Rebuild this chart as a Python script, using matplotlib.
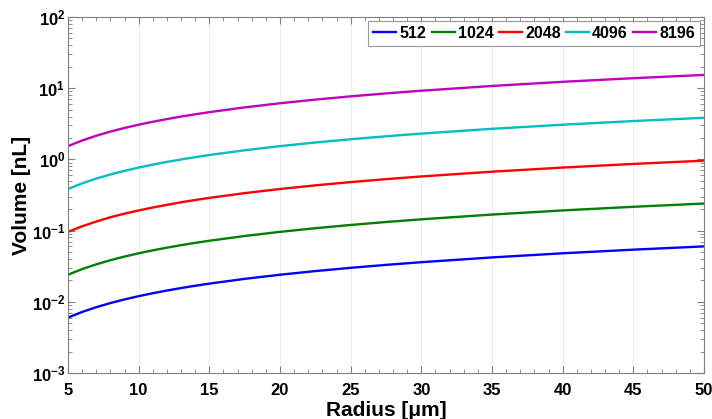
import numpy as np
import matplotlib.pyplot as plt
from matplotlib.ticker import FixedLocator, FuncFormatter, LogLocator, NullFormatter

plt.rcParams['font.family'] = ['Liberation Sans', 'DejaVu Sans']
plt.rcParams['font.weight'] = 'bold'
plt.rcParams['mathtext.fontset'] = 'custom'
plt.rcParams['mathtext.rm'] = 'Liberation Sans:bold'
plt.rcParams['mathtext.bf'] = 'Liberation Sans:bold'

### DATA
### ------------------
radius = [5, 6, 7, 8, 9, 10, 11, 12, 13, 14, 15, 17.5, 20, 22.5, 25, 27.5, 30, 35, 40, 45, 50]

vol_512 = [0.006, 0.0072, 0.0084, 0.0096, 0.0108, 0.012, 0.0132, 0.0144, 0.0156, 0.0168, 0.018,
           0.021, 0.024, 0.027, 0.030, 0.033, 0.036, 0.042, 0.048, 0.054, 0.060]
vol_1024 = [0.024, 0.0288, 0.0336, 0.0384, 0.0432, 0.048, 0.0528, 0.0576, 0.0624, 0.0672, 0.072,
            0.084, 0.096, 0.108, 0.12, 0.132, 0.144, 0.168, 0.192, 0.216, 0.24]
vol_2048 = [0.096, 0.115, 0.134, 0.154, 0.173, 0.192, 0.211, 0.230, 0.250, 0.269, 0.288,
            0.336, 0.384, 0.432, 0.48, 0.528, 0.576, 0.672, 0.768, 0.864, 0.96]
vol_4096 = [0.384, 0.461, 0.538, 0.614, 0.691, 0.768, 0.845, 0.922, 0.998, 1.075, 1.152,
            1.344, 1.536, 1.728, 1.92, 2.112, 2.304, 2.688, 3.072, 3.456, 3.84]
vol_8196 = [1.536, 1.843, 2.150, 2.458, 2.765, 3.072, 3.379, 3.686, 3.994, 4.301, 4.608,
            5.376, 6.144, 6.912, 7.68, 8.448, 9.216, 10.75, 12.29, 13.82, 15.36]

labels = ['512', '1024', '2048', '4096', '8196']
series = [vol_512, vol_1024, vol_2048, vol_4096, vol_8196]
colors = ['#0000ff', '#008000', '#ff0000', '#00bfbf', '#bf00bf']

### PLOT
### ------------------
fig = plt.figure(figsize=(7.12, 4.19), dpi=100)
ax = fig.add_axes([68 / 712, 1 - 373 / 419, 636 / 712, 356 / 419])

for index, column in enumerate(series):
    ax.plot(radius, column, color=colors[index], linewidth=1.7, label=labels[index])

ax.set_yscale('log')
ax.set_xlim(5, 50)
ax.set_ylim(1e-3, 1e2)

ax.xaxis.set_major_locator(FixedLocator(np.arange(5, 51, 5)))
ax.xaxis.set_minor_locator(FixedLocator(np.arange(5, 51, 1)))
ax.yaxis.set_major_locator(LogLocator(base=10, numticks=10))
ax.yaxis.set_minor_locator(LogLocator(base=10, subs=np.arange(2, 10), numticks=20))
ax.yaxis.set_minor_formatter(NullFormatter())
ax.yaxis.set_major_formatter(FuncFormatter(lambda v, p: r'$\mathbf{10^{%d}}$' % round(np.log10(v))))

edge = '#7f7f7f'
for spine in ax.spines.values():
    spine.set_color(edge)
ax.tick_params(which='both', direction='in', top=True, right=True, color=edge,
               labelsize=12)
ax.tick_params(axis='x', pad=7)
ax.tick_params(axis='y', pad=2)
ax.tick_params(which='major', length=5)
ax.tick_params(which='minor', length=3)
for lab in ax.get_xticklabels():
    lab.set_fontweight('bold')

ax.grid(axis='x', which='major', color='#ebebeb', linewidth=0.7)
ax.set_axisbelow(True)

ax.set_xlabel('Radius [\u03bcm]', fontsize=15, fontweight='bold', labelpad=2)
ax.set_ylabel('Volume [nL]', fontsize=15, fontweight='bold')
ax.yaxis.set_label_coords(-0.058, 0.5)

leg = ax.legend(loc='upper right', ncol=5, fontsize=11.5, frameon=True, fancybox=False,
                edgecolor=edge, handlelength=1.45, handletextpad=0.2, columnspacing=0.32,
                borderpad=0.3, borderaxespad=0.25)
leg.get_frame().set_linewidth(0.8)
for t in leg.get_texts():
    t.set_fontweight('bold')

fig.savefig('out.png', dpi=100)
